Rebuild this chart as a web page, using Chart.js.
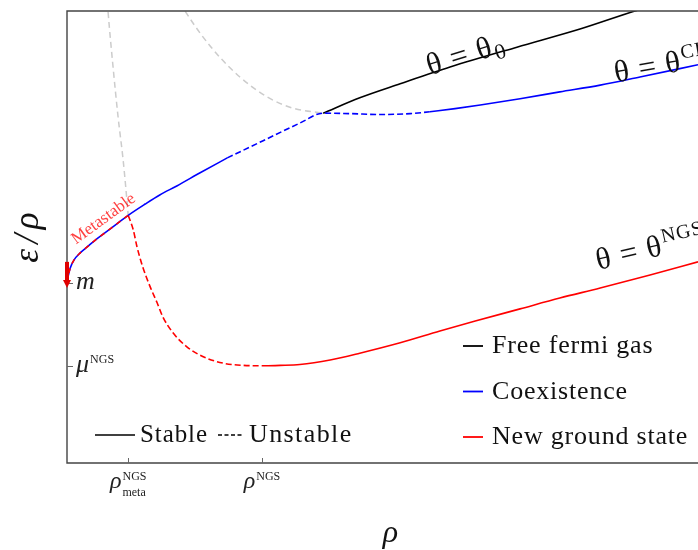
<!DOCTYPE html>
<html>
<head>
<meta charset="utf-8">
<script src="https://cdn.jsdelivr.net/npm/chart.js@4.4.0/dist/chart.umd.min.js"></script>
<style>
  html, body { margin: 0; padding: 0; background: #fff; }
  #phase { display: block; }
</style>
</head>
<body>
<canvas id="phase" width="698" height="550"></canvas>
<script>
// [rho, eps/rho] pairs for each branch (arbitrary units, axes run 0..10)
const freeGas = [[4.06,7.74],[4.64,8.08],[5.28,8.39],[6.07,8.76],[7.13,9.20],[8.13,9.60],[9.00,10.00],[9.48,10.20]];
const coexStableLo = [[0,3.98],[0.02,4.14],[0.05,4.31],[0.11,4.49],[0.21,4.65],[0.32,4.78],[0.43,4.91],[0.60,5.09],[0.79,5.29],[0.97,5.48],[1.24,5.73],[1.47,5.93],[1.74,6.13],[2.11,6.42],[2.54,6.75]];
const coexUnstable = [[2.54,6.75],[2.90,6.99],[3.30,7.26],[3.69,7.52],[4.06,7.74],[4.49,7.73],[4.96,7.71],[5.44,7.73],[5.75,7.77]];
const coexStableHi = [[5.75,7.77],[6.15,7.84],[6.55,7.92],[7.18,8.06],[7.81,8.21],[8.45,8.36],[9.08,8.54],[10.00,8.81]];
const ngsUnstable = [[0.97,5.48],[1.05,5.16],[1.11,4.78],[1.20,4.34],[1.32,3.89],[1.43,3.54],[1.52,3.23],[1.68,2.88],[1.90,2.57],[2.16,2.35],[2.47,2.21],[2.79,2.16],[3.09,2.15]];
const ngsStable = [[3.09,2.15],[3.38,2.16],[3.69,2.18],[4.17,2.28],[4.64,2.43],[5.28,2.66],[5.91,2.92],[6.47,3.14],[7.18,3.41],[7.81,3.65],[8.45,3.87],[9.24,4.16],[10.00,4.45]];
// continuation branches (grey, dashed)
const ghostUpper = [[1.79,10.18],[1.87,10.00],[2.11,9.51],[2.42,8.98],[2.74,8.54],[3.17,8.10],[3.58,7.85],[4.06,7.74]];
const ghostLeft = [[0.64,10.20],[0.65,10.00],[0.73,8.76],[0.81,7.65],[0.89,6.70],[0.935,6.04],[0.97,5.48]];
// decay of the metastable branch down to m
const metaArrow = [[0,4.45],[0,3.87]];

const rhoTickValues = [0.97, 3.09];
const rhoTickLabels = [{ base: 'ρ', sup: 'NGS', sub: 'meta' }, { base: 'ρ', sup: 'NGS' }];
const epsTickValues = [3.98, 2.15];
const epsTickLabels = [{ base: 'm' }, { base: 'μ', sup: 'NGS' }];

const legendNames = ['Free fermi gas', 'Coexistence', 'New ground state'];
const legendColors = ['#000000', '#0000ff', '#ff0000'];

const SERIF = '"Liberation Serif", "Times New Roman", serif';
const metastable = coexStableLo.filter(p => p[0] <= rhoTickValues[0]);

function pts(a) { return a.map(p => ({ x: p[0], y: p[1] })); }
function curve(a, color, dash, order, width) {
  return {
    data: pts(a), showLine: true, borderColor: color, backgroundColor: color,
    borderWidth: width || 1.6, borderDash: dash || [], pointRadius: 0,
    fill: false, clip: 0, order: order
  };
}

// base glyph with optional superscript / subscript
function scriptText(ctx, x, y, o) {
  const size = o.size;
  const small = o.small || Math.round(size * 0.55);
  const bf = (o.italic ? 'italic ' : '') + size + 'px ' + SERIF;
  const sf = small + 'px ' + SERIF;
  ctx.font = bf;
  const bw = ctx.measureText(o.base).width;
  ctx.font = sf;
  const sw = Math.max(o.sup ? ctx.measureText(o.sup).width : 0, o.sub ? ctx.measureText(o.sub).width : 0);
  const total = bw + (sw ? sw + 1 : 0);
  const x0 = o.align === 'center' ? x - total / 2 : x;
  ctx.textAlign = 'left';
  ctx.textBaseline = 'alphabetic';
  ctx.font = bf;
  ctx.fillText(o.base, x0, y);
  ctx.font = sf;
  if (o.sup) ctx.fillText(o.sup, x0 + bw + 1, y - (o.supRise || size * 0.38));
  if (o.sub) ctx.fillText(o.sub, x0 + bw + 1, y + (o.subDrop || size * 0.32));
}

const decorations = {
  id: 'decorations',
  afterDatasetsDraw(chart) {
    const { ctx, chartArea: a, scales: { x, y } } = chart;
    ctx.save();

    // frame (no right spine, plot runs off the edge)
    ctx.strokeStyle = '#444';
    ctx.lineWidth = 1.4;
    ctx.beginPath();
    ctx.moveTo(a.right + 2, a.top); ctx.lineTo(a.left, a.top);
    ctx.lineTo(a.left, a.bottom); ctx.lineTo(a.right + 2, a.bottom);
    ctx.stroke();

    // inward ticks
    ctx.strokeStyle = '#666';
    ctx.lineWidth = 1;
    ctx.beginPath();
    rhoTickValues.forEach(v => { const px = Math.round(x.getPixelForValue(v)) + 0.5; ctx.moveTo(px, a.bottom); ctx.lineTo(px, a.bottom - 5); });
    epsTickValues.forEach(v => { const py = Math.round(y.getPixelForValue(v)) + 0.5; ctx.moveTo(a.left, py); ctx.lineTo(a.left + 6, py); });
    ctx.stroke();

    ctx.fillStyle = '#222';
    rhoTickValues.forEach((v, i) => {
      const l = rhoTickLabels[i];
      scriptText(ctx, x.getPixelForValue(v), a.bottom + 25, { base: l.base, sup: l.sup, sub: l.sub, size: 24, small: 12, italic: true, align: 'center', supRise: 8, subDrop: 8 });
    });
    epsTickValues.forEach((v, i) => {
      const l = epsTickLabels[i];
      scriptText(ctx, a.left + 9, y.getPixelForValue(v) + 6, { base: l.base, sup: l.sup, size: 26, small: 12, italic: true, supRise: 9 });
    });

    // axis titles
    ctx.fillStyle = '#111';
    ctx.font = 'italic 32px ' + SERIF;
    ctx.textAlign = 'center';
    ctx.textBaseline = 'alphabetic';
    ctx.fillText('ρ', (a.left + 698) / 2 + 8, 542);
    ctx.save();
    ctx.translate(38, 237);
    ctx.rotate(-Math.PI / 2);
    ctx.font = 'italic 35px ' + SERIF;
    ctx.letterSpacing = '5px';
    ctx.fillText('ε/ρ', 2, 0);
    ctx.letterSpacing = '0px';
    ctx.restore();

    // metastable decay arrow
    const axp = x.getPixelForValue(metaArrow[0][0]);
    const ay0 = y.getPixelForValue(metaArrow[0][1]);
    const ay1 = y.getPixelForValue(metaArrow[1][1]);
    ctx.strokeStyle = '#e00000';
    ctx.fillStyle = '#e00000';
    ctx.lineWidth = 4;
    ctx.beginPath(); ctx.moveTo(axp, ay0); ctx.lineTo(axp, ay1 - 6); ctx.stroke();
    ctx.beginPath(); ctx.moveTo(axp - 4, ay1 - 8); ctx.lineTo(axp + 4, ay1 - 8); ctx.lineTo(axp, ay1); ctx.closePath(); ctx.fill();

    ctx.save();
    ctx.translate(x.getPixelForValue(0.58), y.getPixelForValue(5.40));
    ctx.rotate(-36 * Math.PI / 180);
    ctx.fillStyle = 'rgba(255,0,0,0.75)';
    ctx.font = '17px ' + SERIF;
    ctx.textAlign = 'center';
    ctx.textBaseline = 'middle';
    ctx.fillText('Metastable', 0, 0);
    ctx.restore();

    // branch labels
    const branchLabels = [
      { at: [5.75, 8.58], deg: 17, sup: null, sub: '0' },
      { at: [8.70, 8.42], deg: 10, sup: 'CF' },
      { at: [8.42, 4.27], deg: 13, sup: 'NGS' }
    ];
    ctx.fillStyle = '#111';
    branchLabels.forEach(b => {
      ctx.save();
      ctx.translate(x.getPixelForValue(b.at[0]), y.getPixelForValue(b.at[1]));
      ctx.rotate(-b.deg * Math.PI / 180);
      ctx.letterSpacing = '1px';
      scriptText(ctx, 0, 0, { base: 'θ = θ', sup: b.sup, sub: b.sub, size: 31, small: b.sub ? 22 : 20, supRise: 12, subDrop: 5 });
      ctx.restore();
    });

    // colour legend
    ctx.letterSpacing = '0.8px';
    legendNames.forEach((name, i) => {
      const ly = 346 + i * 45.5;
      ctx.strokeStyle = legendColors[i];
      ctx.lineWidth = 1.8;
      ctx.setLineDash([]);
      ctx.beginPath(); ctx.moveTo(463, ly); ctx.lineTo(483, ly); ctx.stroke();
      ctx.fillStyle = '#111';
      ctx.font = '26px ' + SERIF;
      ctx.textAlign = 'left';
      ctx.textBaseline = 'alphabetic';
      ctx.fillText(name, 492, ly + 7);
    });

    // line style legend
    ctx.strokeStyle = '#000';
    ctx.lineWidth = 1.6;
    ctx.beginPath(); ctx.moveTo(95, 435); ctx.lineTo(135, 435); ctx.stroke();
    ctx.setLineDash([4, 2.5]);
    ctx.beginPath(); ctx.moveTo(218, 435); ctx.lineTo(244, 435); ctx.stroke();
    ctx.setLineDash([]);
    ctx.letterSpacing = '0.9px';
    ctx.font = '25px ' + SERIF;
    ctx.fillText('Stable', 140, 442);
    ctx.letterSpacing = '1.4px';
    ctx.font = '26px ' + SERIF;
    ctx.fillText('Unstable', 249, 442);
    ctx.restore();
  }
};

new Chart(document.getElementById('phase'), {
  type: 'scatter',
  data: {
    datasets: [
      curve(metastable, '#ff0000', [5, 5], 0, 1.6),
      curve(coexStableLo, '#0000ff', [], 1),
      curve(coexUnstable, '#0000ff', [6, 3], 1),
      curve(coexStableHi, '#0000ff', [], 1),
      curve(freeGas, '#000000', [], 2),
      curve(ngsUnstable, '#ff0000', [6, 3], 3),
      curve(ngsStable, '#ff0000', [], 3),
      curve(ghostUpper, '#cccccc', [6, 4], 4, 1.5),
      curve(ghostLeft, '#cccccc', [6, 4], 4, 1.5)
    ]
  },
  options: {
    responsive: false,
    animation: false,
    devicePixelRatio: 1,
    events: [],
    layout: { padding: { left: 67, top: 11, right: 0, bottom: 87 } },
    elements: { line: { cubicInterpolationMode: 'monotone', borderCapStyle: 'butt' } },
    plugins: { legend: { display: false }, tooltip: { enabled: false } },
    scales: {
      x: { type: 'linear', min: 0, max: 10, display: false },
      y: { type: 'linear', min: 0, max: 10, display: false }
    }
  },
  plugins: [decorations]
});
</script>
</body>
</html>
